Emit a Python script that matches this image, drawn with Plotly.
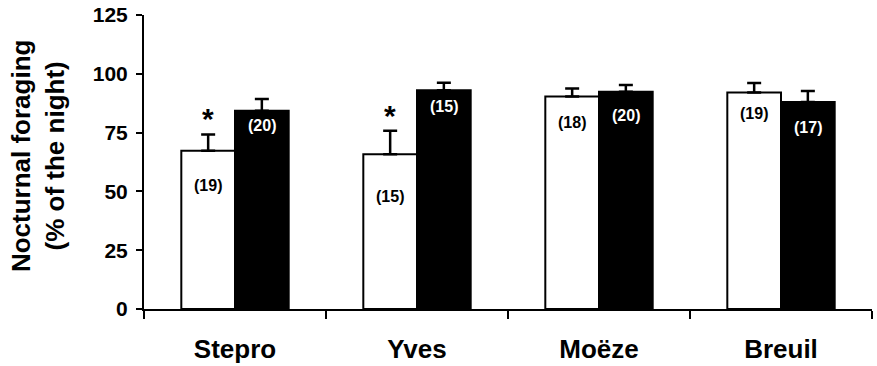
import plotly.graph_objects as go

# Sites and nocturnal foraging (% of the night), mean with upper SE
sites = ["Stepro", "Yves", "Moëze", "Breuil"]
open_means = [67.3, 65.8, 90.3, 92.1]
open_err = [6.9, 10.0, 3.5, 4.0]
open_n = ["(19)", "(15)", "(18)", "(19)"]
filled_means = [84.3, 93.0, 92.4, 88.0]
filled_err = [5.0, 3.2, 2.8, 4.7]
filled_n = ["(20)", "(15)", "(20)", "(17)"]
significant = [True, True, False, False]

y_ticks = [0, 25, 50, 75, 100, 125]

FONT = "Liberation Sans, Arial, sans-serif"

fig = go.Figure()
fig.add_trace(go.Bar(
    x=sites, y=open_means, name="open",
    marker=dict(color="white", line=dict(color="black", width=2)),
    error_y=dict(type="data", array=open_err, arrayminus=[0] * 4,
                 symmetric=False, color="black", thickness=2.5, width=7),
))
fig.add_trace(go.Bar(
    x=sites, y=filled_means, name="filled",
    marker=dict(color="black", line=dict(color="black", width=2)),
    error_y=dict(type="data", array=filled_err, arrayminus=[0] * 4,
                 symmetric=False, color="black", thickness=2.5, width=7),
))

# sample sizes drawn inside the bars, lowered a little below each bar top
open_drop = [14.6, 18.0, 11.0, 9.0]
filled_drop = [6.3, 7.0, 10.0, 11.0]
annotations = []
for i, s in enumerate(sites):
    annotations.append(dict(
        x=i - 0.147, y=open_means[i] - open_drop[i], xref="x", yref="y",
        text=open_n[i], showarrow=False,
        font=dict(family=FONT, size=16, color="black", weight="bold")))
    annotations.append(dict(
        x=i + 0.147, y=filled_means[i] - filled_drop[i], xref="x", yref="y",
        text=filled_n[i], showarrow=False,
        font=dict(family=FONT, size=16, color="white", weight="bold")))
    if significant[i]:
        annotations.append(dict(
            x=i - 0.147, y=open_means[i] + open_err[i], xref="x", yref="y",
            text="*", showarrow=False, yanchor="bottom", yshift=-3,
            font=dict(family=FONT, size=30, color="black", weight="bold")))

annotations.append(dict(
    x=-0.1456, y=0.52, xref="paper", yref="paper",
    text="Nocturnal foraging<br>(% of the night)", textangle=-90,
    showarrow=False, xanchor="center", yanchor="middle",
    font=dict(family=FONT, size=26, color="black", weight="bold")))

fig.update_layout(
    width=877, height=366,
    margin=dict(l=144, r=5, t=15, b=57),
    paper_bgcolor="white", plot_bgcolor="white",
    barmode="group", bargap=0.41, bargroupgap=0,
    showlegend=False,
    annotations=annotations,
    xaxis=dict(
        tickson="boundaries", ticks="outside", ticklen=8, tickwidth=2,
        tickcolor="black", showline=True, linecolor="black", linewidth=2,
        showgrid=False, zeroline=False, range=[-0.5, 3.5],
        ticklabelstandoff=16, automargin=False,
        tickfont=dict(family=FONT, size=26, color="black", weight="bold"),
    ),
    yaxis=dict(
        range=[0, 125], tickvals=y_ticks, ticks="outside", ticklen=6,
        tickwidth=2, tickcolor="black", showline=True, linecolor="black",
        linewidth=2, showgrid=False, zeroline=False, ticklabelstandoff=4,
        automargin=False,
        tickfont=dict(family=FONT, size=21, color="black", weight="bold"),
    ),
)

fig.write_html("out.html")
